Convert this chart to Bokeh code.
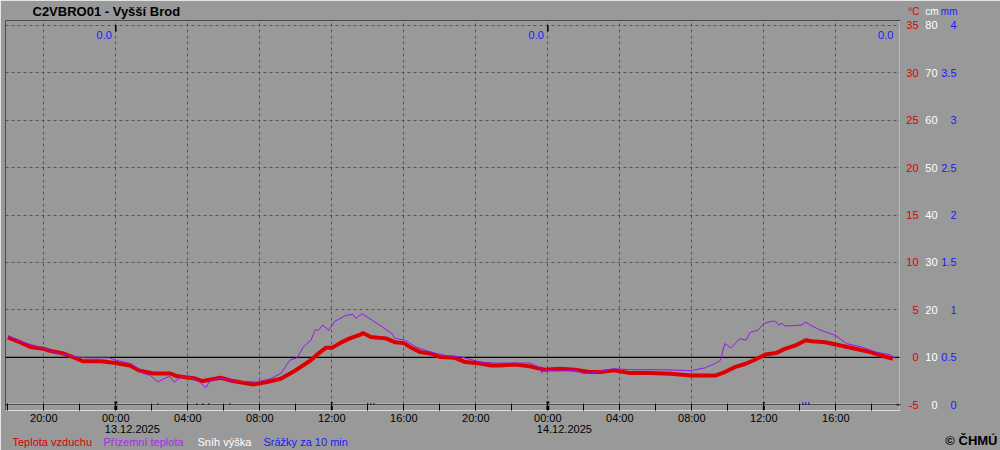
import pandas as pd
from bokeh.plotting import figure
from bokeh.models import (Range1d, Span, FixedTicker, DatetimeTickFormatter,
                          ColumnDataSource, Grid)
from bokeh.core.properties import value
from bokeh.embed import file_html
from bokeh.resources import INLINE

# ---------------- data ----------------
title_text = "C2VBRO01 - Vyšší Brod"

air_time = ["2025-12-12 18:00", "2025-12-12 18:40", "2025-12-12 19:15", "2025-12-12 20:00",
            "2025-12-12 20:20", "2025-12-12 21:05", "2025-12-12 21:40", "2025-12-12 22:10",
            "2025-12-12 23:10", "2025-12-13 00:00", "2025-12-13 00:50", "2025-12-13 01:20",
            "2025-12-13 02:05", "2025-12-13 03:00", "2025-12-13 03:25", "2025-12-13 04:20",
            "2025-12-13 04:50", "2025-12-13 05:50", "2025-12-13 06:30", "2025-12-13 07:40",
            "2025-12-13 08:25", "2025-12-13 09:10", "2025-12-13 09:50", "2025-12-13 10:50",
            "2025-12-13 11:15", "2025-12-13 11:40", "2025-12-13 12:00", "2025-12-13 12:30",
            "2025-12-13 13:00", "2025-12-13 13:35", "2025-12-13 13:45", "2025-12-13 14:10",
            "2025-12-13 15:00", "2025-12-13 15:30", "2025-12-13 16:00", "2025-12-13 16:20",
            "2025-12-13 16:55", "2025-12-13 17:30", "2025-12-13 18:00", "2025-12-13 18:50",
            "2025-12-13 19:25", "2025-12-13 20:15", "2025-12-13 20:50", "2025-12-13 21:20",
            "2025-12-13 22:10", "2025-12-13 23:00", "2025-12-13 23:50", "2025-12-14 00:40",
            "2025-12-14 01:30", "2025-12-14 02:20", "2025-12-14 02:55", "2025-12-14 03:40",
            "2025-12-14 04:35", "2025-12-14 05:40", "2025-12-14 06:50", "2025-12-14 07:55",
            "2025-12-14 09:20", "2025-12-14 09:50", "2025-12-14 10:25", "2025-12-14 11:00",
            "2025-12-14 11:30", "2025-12-14 12:05", "2025-12-14 12:40", "2025-12-14 13:10",
            "2025-12-14 13:45", "2025-12-14 14:20", "2025-12-14 14:40", "2025-12-14 15:25",
            "2025-12-14 16:15", "2025-12-14 17:05", "2025-12-14 17:55", "2025-12-14 18:30",
            "2025-12-14 19:10"]
air_temp = [2.1, 1.6, 1.1, 0.9, 0.7, 0.4, 0.0, -0.4,
            -0.4, -0.6, -0.9, -1.4, -1.7, -1.7, -2.0, -2.2,
            -2.5, -2.15, -2.5, -2.85, -2.6, -2.25, -1.55, -0.3,
            0.4, 1.0, 1.0, 1.55, 2.0, 2.4, 2.55, 2.15,
            2.0, 1.6, 1.5, 1.1, 0.55, 0.4, 0.05, -0.05,
            -0.5, -0.65, -0.85, -0.85, -0.75, -0.95, -1.3, -1.2,
            -1.3, -1.55, -1.55, -1.37, -1.66, -1.66, -1.72, -1.9,
            -1.9, -1.55, -1.0, -0.67, -0.25, 0.3, 0.45, 0.9,
            1.25, 1.8, 1.7, 1.6, 1.25, 0.9, 0.55, 0.2,
            -0.15]

ground_time = ["2025-12-12 18:00", "2025-12-12 18:40", "2025-12-12 20:00", "2025-12-12 20:40",
               "2025-12-12 21:50", "2025-12-12 22:20", "2025-12-12 23:40", "2025-12-13 00:00",
               "2025-12-13 00:50", "2025-12-13 01:20", "2025-12-13 01:30", "2025-12-13 01:55",
               "2025-12-13 02:20", "2025-12-13 02:40", "2025-12-13 03:00", "2025-12-13 03:15",
               "2025-12-13 03:35", "2025-12-13 04:10", "2025-12-13 04:40", "2025-12-13 05:00",
               "2025-12-13 05:15", "2025-12-13 05:50", "2025-12-13 06:30", "2025-12-13 07:50",
               "2025-12-13 08:35", "2025-12-13 09:10", "2025-12-13 09:40", "2025-12-13 10:05",
               "2025-12-13 10:25", "2025-12-13 10:50", "2025-12-13 11:05", "2025-12-13 11:15",
               "2025-12-13 11:30", "2025-12-13 11:50", "2025-12-13 12:10", "2025-12-13 12:45",
               "2025-12-13 13:10", "2025-12-13 13:20", "2025-12-13 13:40", "2025-12-13 14:15",
               "2025-12-13 14:40", "2025-12-13 15:20", "2025-12-13 15:30", "2025-12-13 16:05",
               "2025-12-13 16:40", "2025-12-13 17:30", "2025-12-13 18:20", "2025-12-13 19:10",
               "2025-12-13 20:15", "2025-12-13 21:05", "2025-12-13 23:00", "2025-12-13 23:35",
               "2025-12-13 23:40", "2025-12-13 23:50", "2025-12-14 00:25", "2025-12-14 01:30",
               "2025-12-14 02:00", "2025-12-14 02:40", "2025-12-14 03:40", "2025-12-14 04:35",
               "2025-12-14 06:15", "2025-12-14 07:55", "2025-12-14 08:45", "2025-12-14 09:20",
               "2025-12-14 09:35", "2025-12-14 09:50", "2025-12-14 10:10", "2025-12-14 10:40",
               "2025-12-14 11:00", "2025-12-14 11:15", "2025-12-14 11:40", "2025-12-14 12:00",
               "2025-12-14 12:25", "2025-12-14 12:40", "2025-12-14 12:50", "2025-12-14 13:00",
               "2025-12-14 13:10", "2025-12-14 14:05", "2025-12-14 14:20", "2025-12-14 14:35",
               "2025-12-14 15:10", "2025-12-14 16:00", "2025-12-14 16:35", "2025-12-14 17:25",
               "2025-12-14 18:15", "2025-12-14 19:00", "2025-12-14 19:20"]
ground_temp = [2.3, 1.7, 0.95, 0.5,
               0.05, -0.05, -0.05, -0.3,
               -0.65, -1.35, -1.7, -1.9,
               -2.6, -2.25, -2.0, -2.6,
               -2.1, -2.1, -2.6, -3.2,
               -2.45, -2.15, -2.5, -2.6,
               -2.25, -1.7, -0.3, -0.03,
               1.1, 1.8, 2.9, 2.85,
               3.4, 2.85, 3.8, 4.4,
               4.55, 4.1, 4.6, 3.9,
               3.4, 2.5, 2.0, 1.8,
               1.1, 0.55, 0.2, 0.05,
               -0.5, -0.6, -0.6, -1.1,
               -1.65, -1.3, -1.45, -1.37,
               -1.72, -1.55, -1.2, -1.3,
               -1.3, -1.4, -1.1, -0.6,
               -0.32, 1.45, 1.0, 1.97,
               1.8, 2.65, 2.85, 3.55,
               3.8, 3.8, 3.4, 3.6,
               3.3, 3.4, 3.7, 3.4,
               2.85, 2.3, 1.45, 1.1,
               0.55, 0.28, -0.1]

snow_time = ["2025-12-12 18:00", "2025-12-14 19:20"]
snow_cm = [0, 0]

precip_time = ["2025-12-13 02:20", "2025-12-13 04:30", "2025-12-13 04:50", "2025-12-13 05:10",
               "2025-12-13 06:20", "2025-12-13 14:00", "2025-12-13 14:10", "2025-12-13 14:20",
               "2025-12-14 14:10", "2025-12-14 14:20", "2025-12-14 14:30"]
precip_mm = [0.02, 0.02, 0.02, 0.02, 0.02, 0.02, 0.02, 0.02, 0.03, 0.03, 0.03]

day_sum_time = ["2025-12-13 00:00", "2025-12-14 00:00", "2025-12-14 19:25"]
day_sum_text = ["0.0", "0.0", "0.0"]

date_label_time = ["2025-12-13 00:00", "2025-12-14 00:00"]
date_label_text = ["13.12.2025", "14.12.2025"]

temp_ticks = [-5, 0, 5, 10, 15, 20, 25, 30, 35]
temp_labels = ["-5", "0", "5", "10", "15", "20", "25", "30", "35"]
cm_ticks = [0, 10, 20, 30, 40, 50, 60, 70, 80]
cm_labels = ["0", "10", "20", "30", "40", "50", "60", "70", "80"]
mm_ticks = [0, 0.5, 1, 1.5, 2, 2.5, 3, 3.5, 4]
mm_labels = ["0", "0.5", "1", "1.5", "2", "2.5", "3", "3.5", "4"]
unit_labels = ["°C", "cm", "mm"]

legend_names = ["Teplota vzduchu", "Přízemní teplota", "Sníh výška", "Srážky za 10 min"]
copyright_text = "© ČHMÚ"

# ---------------- styling / layout ----------------
FONT = "Liberation Sans"
BG = "#999999"
RED, PURPLE, WHITE, BLUE = "#dd0000", "#9a14f0", "#ffffff", "#1a1aff"
W, H = 1000, 450
FL, FR, FT, FB = 5, 100, 20, 40
FW, FH = W - FL - FR, H - FT - FB
T_MIN, T_MAX = -5.6, 35.5


def ms(t):
    return pd.Timestamp(t).value / 1e6


X0, X1 = ms("2025-12-12 17:52:20"), ms("2025-12-14 19:35:30")


def X(px):  # canvas pixel -> data x
    return X0 + (X1 - X0) * (px - FL) / FW


def Y(py):  # canvas pixel -> data y (deg C)
    return T_MAX - (T_MAX - T_MIN) * (py - FT) / FH


p = figure(width=W, height=H, x_axis_type="datetime", y_axis_location=None,
           toolbar_location=None, output_backend="svg",
           x_range=Range1d(X0, X1), y_range=Range1d(T_MIN, T_MAX))
p.extra_y_ranges = {"cm": Range1d((T_MIN + 5) * 2, (T_MAX + 5) * 2),
                    "mm": Range1d((T_MIN + 5) / 10, (T_MAX + 5) / 10)}
p.min_border_left, p.min_border_right = FL, FR
p.min_border_top, p.min_border_bottom = FT, FB
p.background_fill_color = BG
p.border_fill_color = BG
p.outline_line_color = "#4a4a4a"
p.grid.visible = False

four_h = [ms(t) for t in pd.date_range("2025-12-12 20:00", "2025-12-14 16:00", freq="4h")]
two_h = [ms(t) for t in pd.date_range("2025-12-12 18:00", "2025-12-14 18:00", freq="4h")]
days = [ms(t) for t in ["2025-12-13 00:00", "2025-12-14 00:00"]]
noons = [ms(t) for t in ["2025-12-13 12:00", "2025-12-14 12:00"]]

GRID = dict(grid_line_color="#555555", grid_line_dash="3 3", grid_line_width=1)
p.add_layout(Grid(dimension=0, ticker=FixedTicker(ticks=four_h), **GRID))
p.add_layout(Grid(dimension=1, ticker=FixedTicker(ticks=[5, 10, 15, 20, 25, 30, 35]), **GRID))

# bottom time axis
ax = p.xaxis[0]
ax.ticker = FixedTicker(ticks=four_h, minor_ticks=two_h)
fmt = "%H:%M"
ax.formatter = DatetimeTickFormatter(hours=fmt, hourmin=fmt, days=fmt, months=fmt, years=fmt,
                                     minutes=fmt, minsec=fmt, seconds=fmt)
ax.axis_line_color = "#dcdcdc"
ax.major_tick_in, ax.major_tick_out = 7, 0
ax.minor_tick_in, ax.minor_tick_out = 7, 0
ax.major_tick_line_color = "black"
ax.minor_tick_line_color = "black"
ax.major_label_text_font = FONT
ax.major_label_text_font_size = "11px"
ax.major_label_text_color = "black"
ax.major_label_standoff = 1

# light right border, 0 degC line
p.add_layout(Span(location=X1, dimension="height", line_color="#dcdcdc", line_width=2))
p.add_layout(Span(location=0, dimension="width", line_color="black", line_width=1.2,
                  level="underlay"))

# thick ticks at midnight / noon, day ticks at top
p.segment(x0=days, x1=days, y0=[T_MIN] * 2, y1=[T_MIN + 0.95] * 2, line_color="black", line_width=3)
p.segment(x0=noons, x1=noons, y0=[T_MIN] * 2, y1=[T_MIN + 0.9] * 2, line_color="black", line_width=2)
p.segment(x0=days, x1=days, y0=[35] * 2, y1=[34.35] * 2, line_color="black", line_width=1.5)

# series
snow_src = ColumnDataSource(dict(t=pd.to_datetime(snow_time), v=snow_cm))
p.line("t", "v", source=snow_src, y_range_name="cm", line_color=WHITE, line_width=2)
p.add_layout(Span(location=-5, dimension="width", line_color="black", line_width=1))

pr_src = ColumnDataSource(dict(t=pd.to_datetime(precip_time), v=precip_mm))
p.vbar(x="t", top="v", bottom=0, width=4 * 60 * 1000, source=pr_src, y_range_name="mm",
       fill_color=BLUE, line_color=None)

air_src = ColumnDataSource(dict(t=pd.to_datetime(air_time), v=air_temp))
p.line("t", "v", source=air_src, line_color=RED, line_width=4, line_join="round")
gr_src = ColumnDataSource(dict(t=pd.to_datetime(ground_time), v=ground_temp))
p.line("t", "v", source=gr_src, line_color=PURPLE, line_width=1)


# texts (overlay level so that they are not clipped to the frame)
def txt(x, y, text, color, size="11px", align="left", bold=False, rng=None, x_offset=0):
    kw = dict(y_range_name=rng) if rng else {}
    p.text(x=x, y=y, text=text, text_color=color, text_align=align, text_baseline="middle",
           text_font=value(FONT), text_font_size=value(size),
           text_font_style="bold" if bold else "normal", x_offset=x_offset,
           level="overlay", **kw)


n = len(temp_ticks)
txt([X(918)] * n, temp_ticks, temp_labels, RED, align="right")
txt([X(937)] * n, cm_ticks, cm_labels, WHITE, align="right", rng="cm")
txt([X(956)] * n, mm_ticks, mm_labels, BLUE, align="right", rng="mm")
for t, px, col in zip(unit_labels, [919, 938, 957], [RED, WHITE, BLUE]):
    txt([X(px)], [Y(11)], [t], col, size="10px", align="right")

txt(pd.to_datetime(day_sum_time), [Y(34)] * len(day_sum_time), day_sum_text, BLUE,
    align="right", x_offset=-4)
txt(pd.to_datetime(date_label_time), [Y(428)] * len(date_label_time), date_label_text,
    "black", x_offset=-11)
txt([X(32)], [Y(11)], [title_text], "black", size="13px", bold=True)
for name, col, px in zip(legend_names, [RED, "#a030e8", WHITE, BLUE], [12, 103, 197, 263]):
    txt([X(px)], [Y(441)], [name], col)
txt([X(997)], [Y(440)], [copyright_text], "black", size="13px", align="right", bold=True)

open("out.html", "w").write(file_html(p, INLINE))
